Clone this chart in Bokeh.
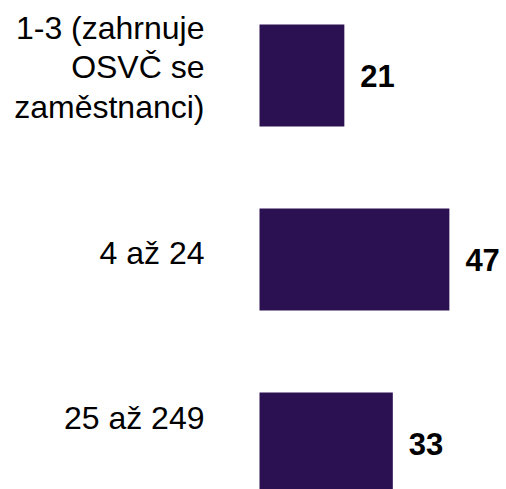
from bokeh.plotting import figure
from bokeh.models import ColumnDataSource, Range1d
from bokeh.core.properties import value
from bokeh.embed import file_html
from bokeh.resources import INLINE

categories = ["1-3 (zahrnuje\nOSVČ se\nzaměstnanci)", "4 až 24", "25 až 249"]
values = [21, 47, 33]
value_labels = ["21", "47", "33"]

# style: per-label vertical nudges (px, negative = up) of category text
label_dy = [-8, -7, -26]

idx = list(range(len(categories)))

src = ColumnDataSource(dict(
    y=idx, v=values, cat=categories, vlab=value_labels,
    zero=[0] * len(idx), dy=label_dy,
))

W, H = 506, 489
px_per_unit = 4.04
x0_px = 259
row_px = 184
first_center_px = 75

p = figure(
    width=W, height=H, output_backend="svg", toolbar_location=None,
    x_range=Range1d(-x0_px / px_per_unit, (W - x0_px) / px_per_unit),
    y_range=Range1d(2 + (H - (first_center_px + 2 * row_px)) / row_px, -first_center_px / row_px),
    x_axis_location=None, y_axis_location=None, min_border=0,
)
p.outline_line_color = None
p.xgrid.visible = False
p.ygrid.visible = False
p.background_fill_color = "white"
p.border_fill_color = "white"

BAR = "#2b1152"
p.hbar(y="y", left="zero", right="v", height=0.555, source=src,
       fill_color=BAR, line_color=None)

p.text(x="zero", y="y", text="cat", source=src, x_offset=-55, y_offset="dy",
       text_align="right", text_baseline="middle",
       text_font=value("Liberation Sans"), text_font_size="32px",
       text_color="black", text_line_height=1.1)

p.text(x="v", y="y", text="vlab", source=src, x_offset=16, y_offset=0,
       text_align="left", text_baseline="middle",
       text_font=value("Liberation Sans"), text_font_size="31px",
       text_font_style="bold", text_color="black")

open("out.html", "w").write(file_html(p, INLINE))
